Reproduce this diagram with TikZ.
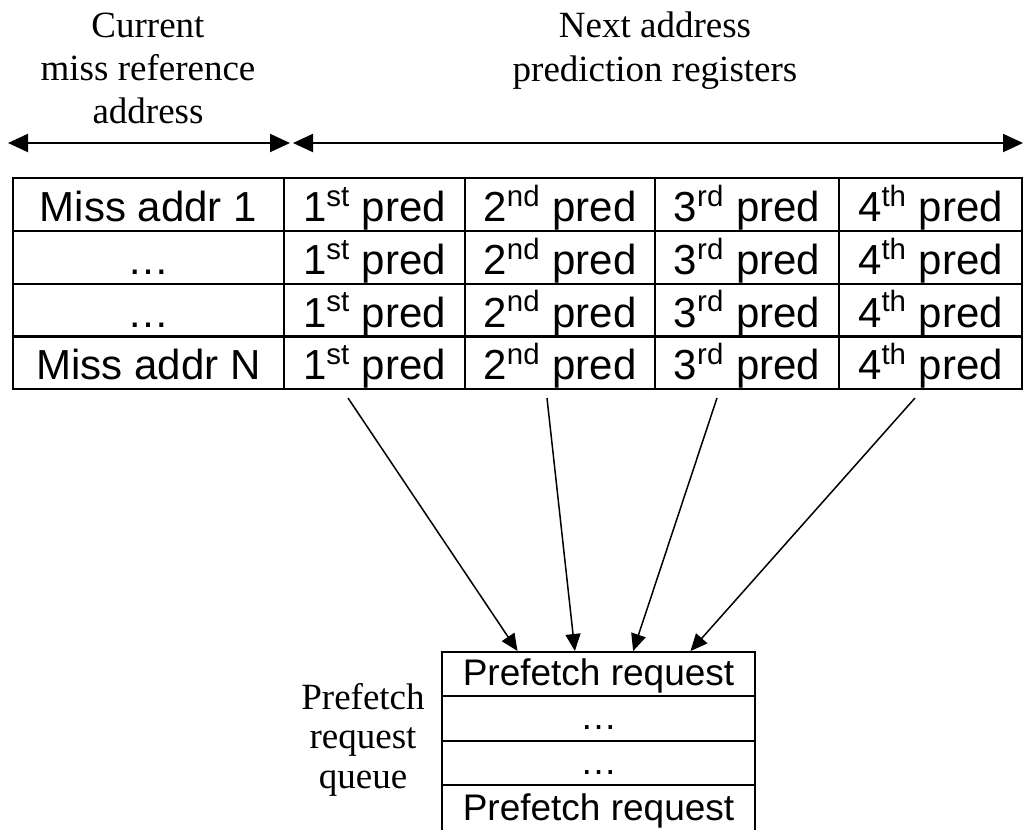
\documentclass[tikz,border=0pt]{standalone}
\usepackage{fontspec}
\setmainfont{Liberation Serif}
\newfontfamily\arialf{Liberation Sans}
\usetikzlibrary{arrows.meta,calc}

\newcommand\nth[2]{#1\textsuperscript{#2} pred}

\tikzset{
  cell/.style={draw, line width=1pt, inner sep=0pt, minimum height=26.5pt,
    text height=18pt, text depth=1pt, font=\arialf\fontsize{21}{25}\selectfont},
  qcell/.style={draw, line width=1pt, inner sep=0pt, minimum width=156.5pt,
    text height=13pt, text depth=2pt, font=\arialf\fontsize{18.5}{22}\selectfont},
  caption/.style={align=center, inner sep=0pt, anchor=base,
    font=\fontsize{18.5}{21.5}\selectfont},
  span/.style={line width=1pt, {Triangle[length=10pt,width=9pt]}-{Triangle[length=10pt,width=9pt]}},
  feed/.style={line width=0.75pt, -{Triangle[length=8.5pt,width=7.5pt]}}
}

\begin{document}
\begin{tikzpicture}[x=0.5pt,y=-0.5pt]
\clip (0,0) rectangle (1024,830);
\fill[white] (0,0) rectangle (1024,830);

% column headings (anchored on the baseline of their last line)
\node[caption] (hcur) at (148,123) {Current\\miss reference\\address};
\node[caption] (hnext) at (655,81) {Next address\\prediction registers};

% extent arrows
\coordinate (a0) at (8,143);
\coordinate (a1) at (290,143);
\coordinate (b0) at (293,143);
\coordinate (b1) at (1023,143);
\draw[span] (a0) -- (a1);
\draw[span] (b0) -- (b1);

% miss table
\foreach \r/\y/\lab in {1/204.5/Miss addr 1, 2/257.5/…, 3/310/…, 4/362.5/Miss addr N}{
  \node[cell, minimum width=135.5pt] (m\r) at (148.5,\y) {\lab};
  \node[cell, minimum width=90.5pt]  (p\r1) at (374.5,\y) {\nth{1}{st}};
  \node[cell, minimum width=95pt]    (p\r2) at (560,\y)   {\nth{2}{nd}};
  \node[cell, minimum width=92pt]    (p\r3) at (747,\y)   {\nth{3}{rd}};
  \node[cell, minimum width=91.5pt]  (p\r4) at (930.5,\y) {\nth{4}{th}};
}

% prefetch request queue
\node[qcell, minimum height=22pt]   (q1) at (598.5,674)   {Prefetch request};
\node[qcell, minimum height=22.5pt] (q2) at (598.5,718.5) {…};
\node[qcell, minimum height=22pt]   (q3) at (598.5,763)   {…};
\node[qcell, minimum height=24pt]   (q4) at (598.5,809)   {Prefetch request};
\node[caption, font=\fontsize{18.5}{19.75}\selectfont] (qlab) at (363,788) {Prefetch\\request\\queue};

% predictions fed into the queue
\coordinate (s1) at (348,398);
\coordinate (s2) at (547,398);
\coordinate (s3) at (717,398);
\coordinate (s4) at (915,398);
\draw[feed] (s1) -- ($(q1.north west)!0.243!(q1.north east)$);
\draw[feed] (s2) -- ($(q1.north west)!0.425!(q1.north east)$);
\draw[feed] (s3) -- ($(q1.north west)!0.61!(q1.north east)$);
\draw[feed] (s4) -- ($(q1.north west)!0.792!(q1.north east)$);
\end{tikzpicture}
\end{document}
